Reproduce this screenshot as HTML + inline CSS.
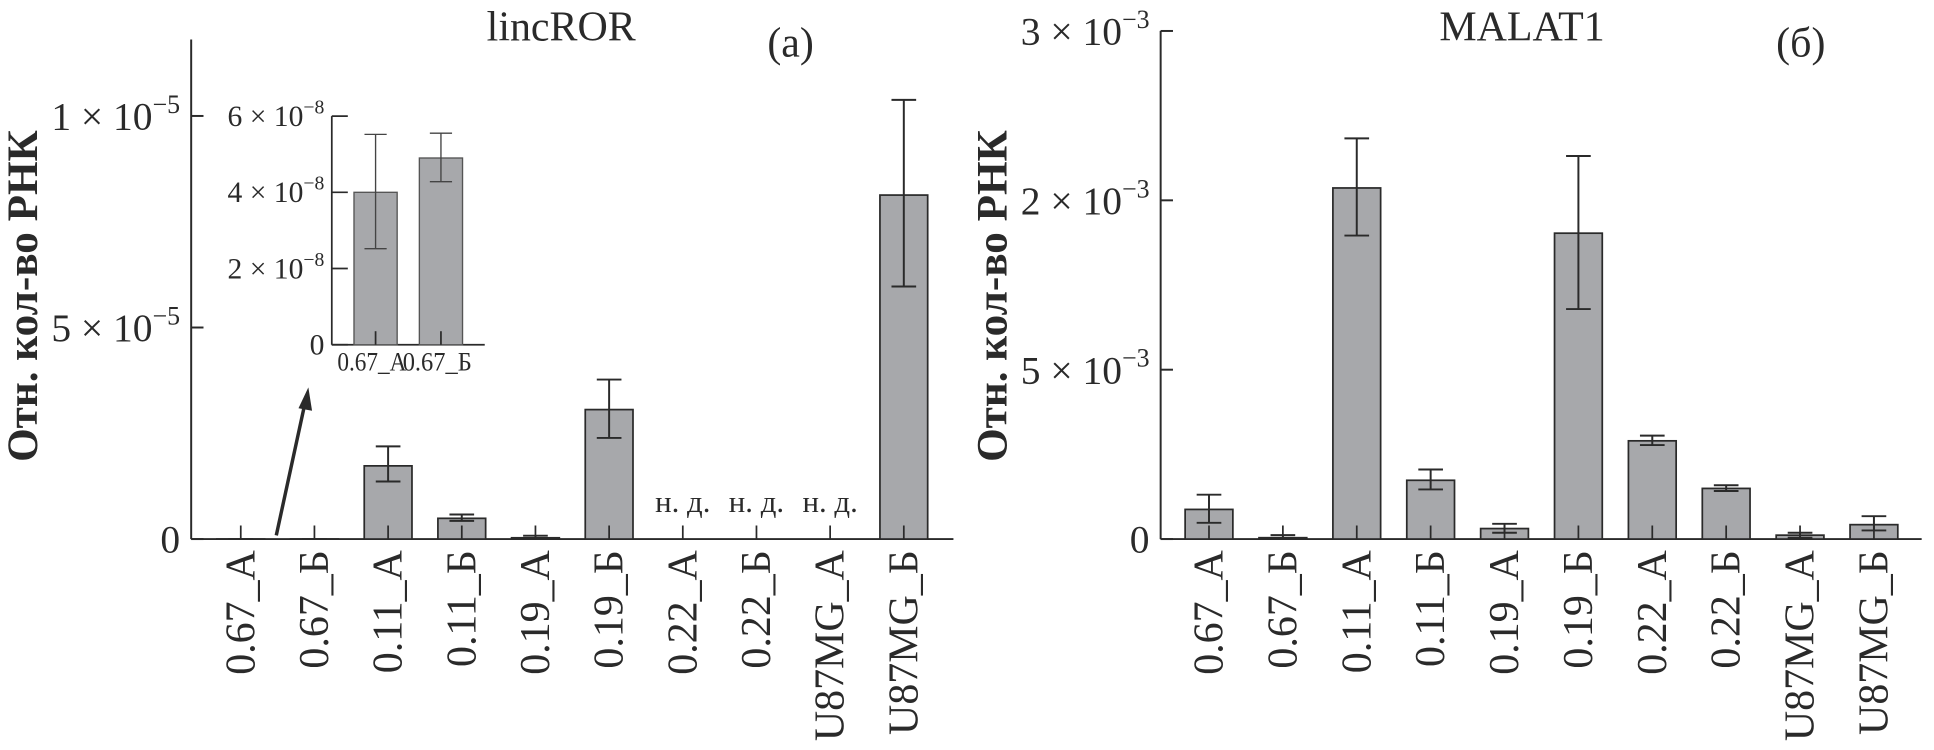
<!DOCTYPE html>
<html><head><meta charset="utf-8"><style>
html,body{margin:0;padding:0;background:#fff;}
svg{display:block;font-family:"Liberation Serif",serif;}
</style></head><body>
<svg id="chart" width="1934" height="750" viewBox="0 0 1568 608" preserveAspectRatio="none" xmlns="http://www.w3.org/2000/svg"></svg>
<script>
const categories = ["0.67_А","0.67_Б","0.11_А","0.11_Б","0.19_А","0.19_Б","0.22_А","0.22_Б","U87MG_А","U87MG_Б"];
// lincROR (units of tick scale, ticks at 0,5,10)
const lincValues = [0.001,0.0012,1.73,0.49,0.03,3.06,null,null,null,8.13];
const lincErrHi  = [0,0,2.19,0.58,0.08,3.77,null,null,null,10.38];
const lincErrLo  = [0,0,1.36,0.43,0.0,2.39,null,null,null,5.97];
const lincTicks = [0,5,10];
const lincTickLabels = [["0",""],["5 × 10","−5"],["1 × 10","−5"]];
// inset (×10^-8)
const insetCats = ["0.67_А","0.67_Б"];
const insetValues = [4.0,4.9];
const insetErrHi = [5.52,5.55];
const insetErrLo = [2.52,4.28];
const insetTicks = [0,2,4,6];
const insetTickLabels = [["0",""],["2 × 10","−8"],["4 × 10","−8"],["6 × 10","−8"]];
// MALAT1
const malValues = [0.175,0.008,2.073,0.347,0.062,1.806,0.58,0.299,0.023,0.085];
const malErrHi  = [0.262,0.023,2.366,0.411,0.09,2.262,0.611,0.318,0.037,0.135];
const malErrLo  = [0.096,0.0,1.792,0.293,0.037,1.358,0.555,0.284,0.008,0.051];
const malTicks = [0,1,2,3];
const malTickLabels = [["0",""],["5 × 10","−3"],["2 × 10","−3"],["3 × 10","−3"]];

const NS="http://www.w3.org/2000/svg";
const svg=document.getElementById('chart');
function mk(tag,attrs,parent){const e=document.createElementNS(NS,tag);for(const k in attrs)e.setAttribute(k,attrs[k]);(parent||svg).appendChild(e);return e;}
const INK="#2a2a2a", FILL="#a7a8ab";

function tickLabel(g,x,y,lab,size,expSize){
  const t=mk('text',{x:x,y:y,'text-anchor':'end','font-size':size,fill:INK},g);
  
  
  if(lab[1]){
    const s1=mk('tspan',{},t);s1.textContent=lab[0];
    const s2=mk('tspan',{dy:-size*0.42,'font-size':expSize},t);s2.textContent=lab[1];
  } else t.textContent=lab[0];
}

function panel(o){
  const g=mk('g',{});
  
  
  const yS=v=>o.y0-v*o.pxPer;
  const xS=i=>o.x0c+i*o.step;
  const ya=mk('line',{x1:o.ax,y1:o.yTop,x2:o.ax,y2:o.y0,stroke:INK,'stroke-width':1.6},g);
  
  const xa=mk('line',{x1:o.ax,y1:o.y0,x2:o.xEnd,y2:o.y0,stroke:INK,'stroke-width':1.6},g);
  
  o.ticks.forEach((t,i)=>{
    mk('line',{x1:o.ax,y1:yS(t),x2:o.ax+10,y2:yS(t),stroke:INK,'stroke-width':1.6},g);
    tickLabel(g,o.ax-9,yS(t)+11,o.tickLabels[i],32,21);
  });
  o.cats.forEach((c,i)=>{
    const x=xS(i), v=o.vals[i];
    if(v!==null){
      const r=mk('rect',{x:x-o.bw/2,y:yS(v),width:o.bw,height:o.y0-yS(v),fill:FILL,stroke:INK,'stroke-width':1.4},g);
      
      const hi=yS(o.hi[i]),lo=yS(o.lo[i]);
      if(o.hi[i]>v+1e-9||o.lo[i]<v-1e-9){
        const e=mk('path',{d:`M${x},${hi}V${lo}M${x-10},${hi}H${x+10}M${x-10},${lo}H${x+10}`,stroke:INK,'stroke-width':1.6,fill:'none'},g);
        
      }
    } else {
      const t=mk('text',{x:x,y:o.y0-22,'text-anchor':'middle','font-size':25,fill:INK},g);
      
      t.textContent='н. д.';
    }
    mk('line',{x1:x,y1:o.y0,x2:x,y2:o.y0-11,stroke:INK,'stroke-width':1.4},g);
    const tl=mk('text',{x:0,y:0,'text-anchor':'end','font-size':34,fill:INK,transform:`translate(${x+11},${o.y0+9}) rotate(-90)`},g);
    
    tl.textContent=c;
  });
  const tt=mk('text',{x:o.titleX,y:33,'text-anchor':'middle','font-size':34,fill:INK},g);
  
  tt.textContent=o.title;
  const pl=mk('text',{x:o.letterX,y:46,'text-anchor':'middle','font-size':34,fill:INK},g);
  
  pl.textContent=o.letter;
  const yt=mk('text',{x:0,y:0,'text-anchor':'middle','font-size':35,'font-weight':'bold',fill:INK,transform:`translate(${o.ytX},240) rotate(-90)`},g);
  
  yt.textContent='Отн. кол-во РНК';
  return g;
}

panel({name:'lincror-panel',ax:155,yTop:32,y0:437,xEnd:773,pxPer:34.3,x0c:195.2,step:59.73,bw:38.7,
  cats:categories,vals:lincValues,hi:lincErrHi,lo:lincErrLo,ticks:lincTicks,tickLabels:lincTickLabels,
  title:'lincROR',titleX:455,letter:'(a)',letterX:641,ytX:30});
panel({name:'malat1-panel',ax:941,yTop:25,y0:437,xEnd:1558,pxPer:137.3,x0c:980.2,step:59.9,bw:38.7,
  cats:categories,vals:malValues,hi:malErrHi,lo:malErrLo,ticks:malTicks,tickLabels:malTickLabels,
  title:'MALAT1',titleX:1234,letter:'(б)',letterX:1460,ytX:816});

// inset
(function(){
  const g=mk('g',{});
  
  
  const ax=269,y0=279.5,px=30.9,xEnd=393;
  const yS=v=>y0-v*px;
  mk('line',{x1:ax,y1:yS(6),x2:ax,y2:y0,stroke:INK,'stroke-width':1.4},g);
  mk('line',{x1:ax,y1:y0,x2:xEnd,y2:y0,stroke:INK,'stroke-width':1.4},g);
  insetTicks.forEach((t,i)=>{
    mk('line',{x1:ax,y1:yS(t),x2:ax+13,y2:yS(t),stroke:INK,'stroke-width':1.4},g);
    tickLabel(g,ax-6,yS(t)+8,insetTickLabels[i],24,16);
  });
  const centers=[304.5,357.5];
  insetCats.forEach((c,i)=>{
    const x=centers[i],v=insetValues[i];
    const r=mk('rect',{x:x-17.5,y:yS(v),width:35,height:y0-yS(v),fill:FILL,stroke:'#555','stroke-width':1.1},g);
    
    const hi=yS(insetErrHi[i]),lo=yS(insetErrLo[i]);
    mk('path',{d:`M${x},${hi}V${lo}M${x-9},${hi}H${x+9}M${x-9},${lo}H${x+9}`,stroke:'#444','stroke-width':1.1,fill:'none'},g);
    mk('line',{x1:x,y1:y0,x2:x,y2:y0-11,stroke:INK,'stroke-width':1.4},g);
    const t=mk('text',{x:x-3,y:y0+21,'text-anchor':'middle','font-size':21,fill:INK,textLength:56,lengthAdjust:'spacingAndGlyphs'},g);
    
    t.textContent=c;
  });
})();

// arrow
(function(){
  const a=mk('g',{});
  
  
  mk('line',{x1:224,y1:434,x2:247,y2:328,stroke:INK,'stroke-width':2.8},a);
  mk('polygon',{points:'250,314 242,331 253,333',fill:INK},a);
})();
</script>
</body></html>
